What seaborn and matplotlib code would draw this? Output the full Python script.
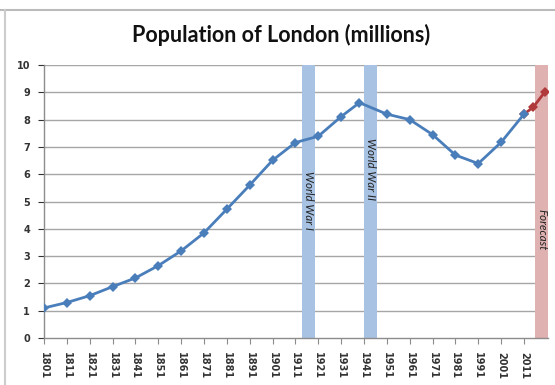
import matplotlib
matplotlib.use("Agg")
import matplotlib.pyplot as plt
import seaborn as sns
import pandas as pd

years = [1801, 1811, 1821, 1831, 1841, 1851, 1861, 1871, 1881, 1891, 1901,
         1911, 1921, 1931, 1939, 1951, 1961, 1971, 1981, 1991, 2001, 2011]
population = [1.10, 1.30, 1.55, 1.88, 2.20, 2.65, 3.19, 3.85, 4.72, 5.60, 6.51,
              7.16, 7.39, 8.11, 8.62, 8.20, 8.00, 7.45, 6.70, 6.39, 7.17, 8.20]
forecast_years = [2011, 2015, 2020]
forecast_pop = [8.20, 8.45, 9.00]
tick_years = list(range(1801, 2012, 10))
bands = [("World War I", 1914, 1919.5, 5.05), ("World War II", 1941, 1946.5, 6.2), ("Forecast", 2016, 2021.5, 3.95)]

sns.set_theme(style="white")
plt.rcParams['font.family'] = ['DejaVu Sans']

fig = plt.figure(figsize=(5.55, 3.85), dpi=100)
ax = fig.add_axes([44/555, 1-338/385, (548-44)/555, (338-65)/385])

for name, x0, x1, ty in bands:
    col = "#e0b1b1" if name == "Forecast" else "#a8c2e3"
    ax.axvspan(x0, x1, color=col, zorder=1, lw=0)
    ax.text((x0 + x1) / 2, ty, name, rotation=-90, ha="center", va="center",
            fontsize=8.3, style="italic", color="#222222", zorder=5, family="Lato")

for v in range(1, 11):
    ax.axhline(v, color="#a6a6a6", lw=1.0, zorder=0.5)

df = pd.DataFrame({"year": years, "pop": population})
fdf = pd.DataFrame({"year": forecast_years, "pop": forecast_pop})
sns.lineplot(data=fdf, x="year", y="pop", ax=ax, color="#b0393b", lw=2,
             marker="D", markersize=5, markeredgewidth=0, zorder=3)
sns.lineplot(data=df, x="year", y="pop", ax=ax, color="#4a7ebb", lw=2,
             marker="D", markersize=5.5, markeredgewidth=0, zorder=4)

ax.set_xlim(1801, 2021.5)
ax.set_ylim(0, 10)
ax.set_yticks(range(0, 11))
ax.set_xticks(tick_years)
ax.set_xticklabels([str(y) for y in tick_years], rotation=-90, fontsize=7, color="#333333", fontweight="semibold")
ax.tick_params(axis="y", labelsize=7, colors="#333333", length=4, width=0.8, direction="out", left=True, pad=6)
ax.tick_params(axis="x", length=4, width=0.8, direction="out", bottom=True, pad=6, colors="#8c8c8c", labelcolor="#333333")
for lab in ax.get_yticklabels():
    lab.set_color("#333333")
    lab.set_fontweight("semibold")
ax.set_xlabel("")
ax.set_ylabel("")
for s in ["top", "right"]:
    ax.spines[s].set_visible(False)
for s in ["left", "bottom"]:
    ax.spines[s].set_color("#8c8c8c")
    ax.spines[s].set_linewidth(1.0)

fig.text(281/555, 1-35/385, "Population of London (millions)", ha="center", va="center",
         fontsize=15.5, fontweight="bold", color="#111111", family="Lato")

fig.add_artist(plt.Line2D([0, 1], [1-10/385, 1-10/385], color="#bbbbbb", lw=1.5, transform=fig.transFigure))
fig.add_artist(plt.Line2D([5/555, 5/555], [0, 1-10/385], color="#cccccc", lw=1.5, transform=fig.transFigure))

fig.savefig("out.png", dpi=100)
